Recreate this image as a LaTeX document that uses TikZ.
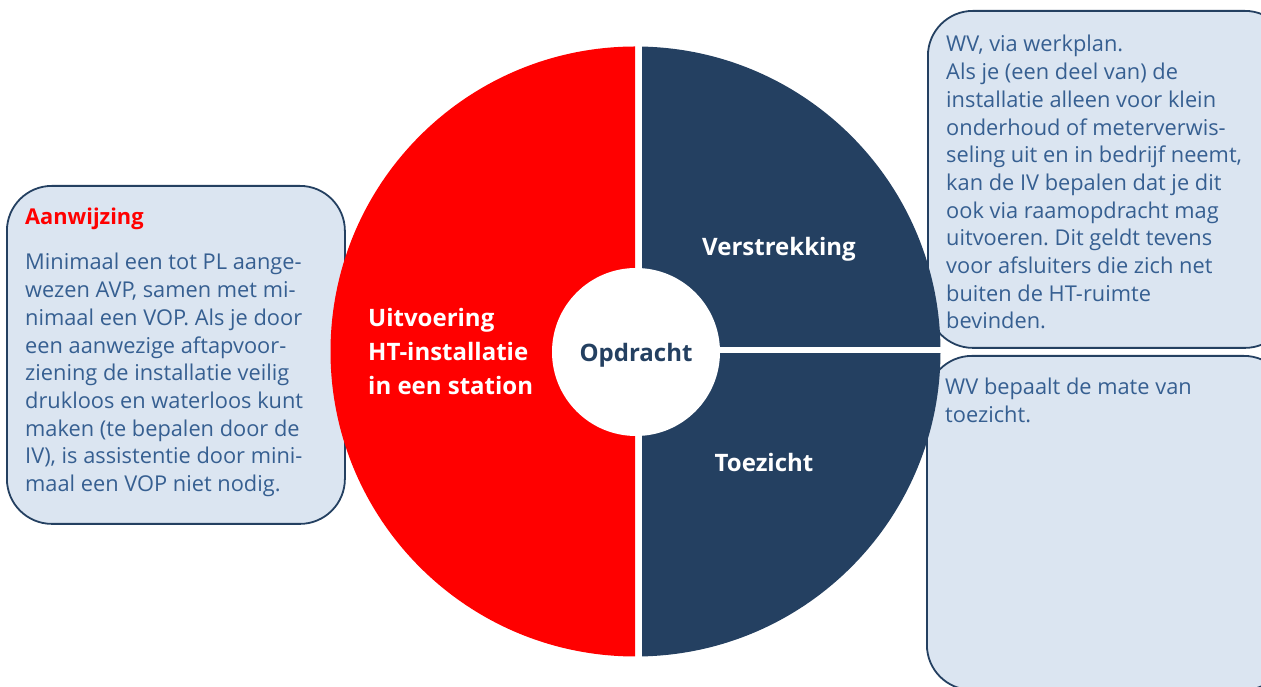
\documentclass[tikz,border=0pt]{standalone}
\usepackage{fontspec}
\setmainfont{Open Sans}
\usetikzlibrary{positioning}
\definecolor{panelblue}{HTML}{244061}
\definecolor{boxfill}{HTML}{DBE5F1}
\definecolor{boxtext}{HTML}{365F91}
\definecolor{uitvred}{HTML}{FF0000}
\frenchspacing

\tikzset{
  infobox/.style={draw=panelblue, line width=1.8pt, fill=boxfill, rounded corners=45pt, inner sep=0pt, anchor=north west},
  boxtekst/.style={text=boxtext, font=\fontsize{21.8}{27.7}\selectfont, align=left, inner sep=0pt, anchor=base west},
  segtekst/.style={text=white, font=\fontsize{24}{34}\selectfont\bfseries, inner sep=0pt}
}

\begin{document}
\begin{tikzpicture}[x=1pt, y=1pt]
  \useasboundingbox (0,0) rectangle (1261,687);
  % kaders
  \node[infobox, minimum width=338pt, minimum height=338pt] (aanwbox) at (6,502) {};
  \node[infobox, minimum width=362pt, minimum height=337pt] (verstrbox) at (927,677) {};
  \node[infobox, minimum width=362pt, minimum height=334pt] (toezbox) at (926,332) {};
  % cirkel
  \begin{scope}
    \clip (0,0) rectangle (635,687);
    \fill[uitvred] (635.5,335.5) circle (305);
  \end{scope}
  \begin{scope}
    \clip (642,340) rectangle (1000,687);
    \fill[panelblue] (635.5,335.5) circle (305);
  \end{scope}
  \begin{scope}
    \clip (642,0) rectangle (1000,333);
    \fill[panelblue] (635.5,335.5) circle (305);
  \end{scope}
  \node[circle, fill=white, minimum size=168pt, inner sep=0pt, text depth=0pt, text=panelblue, font=\fontsize{24}{28}\selectfont\bfseries] (opdracht) at (636,335) {Opdracht};
  \node[segtekst, text depth=0pt] (verstrekking) at (779,441) {Verstrekking};
  \node[segtekst] (toezicht) at (764,224) {Toezicht};
  \node[segtekst, align=left, anchor=west] (uitvoering) at (368,335) {Uitvoering\\HT-installatie\\in een station};
  % teksten (anker = basislijn laatste regel)
  \node[boxtekst, text=uitvred, font=\fontsize{21.8}{27.7}\selectfont\bfseries] (aanwkop) at (25,462) {Aanwijzing};
  \node[boxtekst] (aanwtekst) at (25,195.4) {Minimaal een tot PL aange-\\wezen AVP, samen met mi-\\nimaal een VOP. Als je door\\een aanwezige aftapvoor-\\ziening de installatie veilig\\drukloos en waterloos kunt\\maken (te bepalen door de\\IV), is assistentie door mini-\\maal een VOP niet nodig.};
  \node[boxtekst] (verstrtekst) at (946,358) {WV, via werkplan.\\Als je (een deel van) de\\installatie alleen voor klein\\onderhoud of meterverwis-\\seling uit en in bedrijf neemt,\\kan de IV bepalen dat je dit\\ook via raamopdracht mag\\uitvoeren. Dit geldt tevens\\voor afsluiters die zich net\\buiten de HT-ruimte\\bevinden.};
  \node[boxtekst] (toeztekst) at (945,264.3) {WV bepaalt de mate van\\toezicht.};
\end{tikzpicture}
\end{document}
